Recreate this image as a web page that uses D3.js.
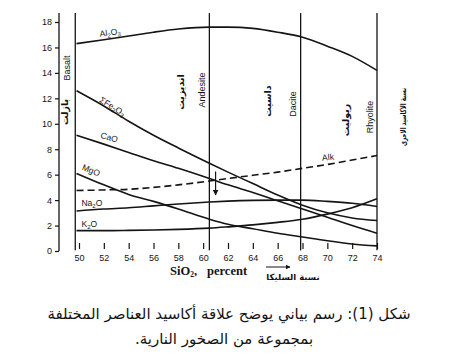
<!DOCTYPE html>
<html><head><meta charset="utf-8">
<script src="https://cdn.jsdelivr.net/npm/d3@7"></script>
<style>
html,body{margin:0;padding:0;background:#fff;}
svg{display:block;}
</style></head>
<body>
<svg id="c" width="456" height="361"></svg>
<script>
// ---- data ----
const silica = [49.8, 52, 54, 56, 58, 60.5, 62, 64, 66, 68, 70, 72, 74];
const al2o3 = [16.3, 16.6, 16.9, 17.2, 17.45, 17.6, 17.6, 17.5, 17.2, 16.8, 16.1, 15.3, 14.2];
const fe2o3 = [12.6, 11.4, 10.2, 9.1, 8.1, 6.9, 6.2, 5.3, 4.4, 3.6, 3.0, 2.6, 2.4];
const cao   = [9.1, 8.4, 7.75, 7.1, 6.5, 5.7, 5.2, 4.6, 3.95, 3.3, 2.65, 2.0, 1.4];
const mgo   = [6.1, 5.2, 4.45, 3.9, 3.3, 2.5, 2.1, 1.75, 1.4, 1.1, 0.8, 0.55, 0.4];
const na2o  = [3.15, 3.3, 3.4, 3.55, 3.7, 3.85, 3.92, 3.98, 4.0, 4.0, 3.9, 3.75, 3.5];
const k2o   = [1.6, 1.6, 1.62, 1.65, 1.7, 1.8, 1.9, 2.05, 2.25, 2.5, 2.9, 3.4, 4.1];
const alk   = [4.75, 4.8, 4.85, 5.0, 5.2, 5.5, 5.7, 5.95, 6.2, 6.5, 6.8, 7.15, 7.5];
const rockNames = ["Basalt", "Andesite", "Dacite", "Rhyolite"];
const rockNamesAr = ["بازلت", "انديزيت", "داسيت", "ريوليت"];
const rockSilica = [49.7, 60.5, 67.85, 74];
const xTicks = [50, 52, 54, 56, 58, 60, 62, 64, 66, 68, 70, 72, 74];
const yTicks = [0, 2, 4, 6, 8, 10, 12, 14, 16, 18];
const arrowSilica = 61;
const arrowFrom = 6.25, arrowTo = 4.4;
const xTitle = "percent";
const xTitleAr = "نسبة السليكا";
const yTitleAr = "نسبة الاكاسيد الاخرى";
const caption1 = "شكل (1): رسم بياني يوضح علاقة أكاسيد العناصر المختلفة";
const caption2 = "بمجموعة من الصخور النارية.";

// ---- scales ----
const svg = d3.select("#c");
const x = d3.scaleLinear().domain([50, 74]).range([79, 377]);
const y = d3.scaleLinear().domain([0, 18]).range([251, 22]);
const ink = "#141414";

// y axis
const yAx = svg.append("g").attr("transform", "translate(59,0)")
  .call(d3.axisLeft(y).tickValues(yTicks).tickSize(4).tickSizeOuter(0).tickPadding(3));
yAx.select(".domain").remove();
yAx.selectAll("line").attr("stroke", ink).attr("stroke-width", 1.2);
yAx.selectAll("text").attr("font-family", "Liberation Sans, Arial, sans-serif")
  .attr("font-size", 9).attr("fill", ink);
svg.append("line").attr("x1", 59).attr("x2", 59).attr("y1", y(18.7)).attr("y2", y(0))
  .attr("stroke", ink).attr("stroke-width", 1.3);

// x axis (ticks only)
const xAx = svg.append("g").attr("transform", "translate(0,249)")
  .call(d3.axisBottom(x).tickValues(xTicks).tickSize(-6).tickSizeOuter(0).tickPadding(6));
xAx.select(".domain").remove();
xAx.selectAll("line").attr("stroke", ink).attr("stroke-width", 1.2);
xAx.selectAll("text").attr("font-family", "Liberation Sans, Arial, sans-serif")
  .attr("font-size", 9).attr("fill", ink);

// rock vertical lines
svg.append("g").selectAll("line").data(rockSilica).join("line")
  .attr("x1", d => x(d)).attr("x2", d => x(d))
  .attr("y1", y(18.7)).attr("y2", y(0.05))
  .attr("stroke", ink).attr("stroke-width", 1.3);

// curves
const line = d3.line().x((d, i) => x(silica[i])).y(d => y(d)).curve(d3.curveMonotoneX);
const series = [al2o3, fe2o3, cao, mgo, na2o, k2o];
svg.append("g").selectAll("path").data(series).join("path")
  .attr("d", line).attr("fill", "none").attr("stroke", ink).attr("stroke-width", 1.6);
svg.append("path").attr("d", line(alk)).attr("fill", "none").attr("stroke", ink)
  .attr("stroke-width", 1.6).attr("stroke-dasharray", "7,4");

// arrow
svg.append("defs").append("marker").attr("id", "ah").attr("viewBox", "0 0 10 10")
  .attr("refX", 9).attr("refY", 5).attr("markerWidth", 5).attr("markerHeight", 6)
  .attr("orient", "auto").append("path").attr("d", "M0,0 L10,5 L0,10 Z").attr("fill", ink);
svg.append("line").attr("x1", x(arrowSilica)).attr("x2", x(arrowSilica))
  .attr("y1", y(arrowFrom)).attr("y2", y(arrowTo)).attr("stroke", ink)
  .attr("stroke-width", 1.2).attr("marker-end", "url(#ah)");

// curve labels
const lab = (t, lx, ly, rot) => {
  const g = svg.append("text").attr("transform", `translate(${lx},${ly}) rotate(${rot})`)
    .attr("font-family", "Liberation Sans, Arial, sans-serif").attr("font-size", 8.5)
    .attr("fill", ink);
  t.forEach(p => g.append("tspan").text(p[0]).attr("font-size", p[1] ? 6 : 8.5)
    .attr("dy", p[1] ? 2 : (p[2] ? -2 : 0)));
  return g;
};
lab([["Al"], ["2", 1], ["O", 0, 1], ["3", 1]], x(51.7), y(16.85), -7);
lab([["ΣFe"], ["2", 1], ["O", 0, 1], ["3", 1]], x(51.6), y(11.75), 32);
lab([["CaO"]], x(51.7), y(8.9), 16);
lab([["MgO"]], x(50.2), y(6.4), 22);
lab([["Na"], ["2", 1], ["O", 0, 1]], x(50.2), y(3.5), 0);
lab([["K"], ["2", 1], ["O", 0, 1]], x(50.2), y(1.9), 0);
lab([["Alk"]], x(69.6), y(7.1), -6);

// rock names (rotated)
const vtext = (t, vx, vy, fam, fs) => svg.append("text")
  .attr("transform", `translate(${vx},${vy}) rotate(-90)`).attr("text-anchor", "middle")
  .attr("font-family", fam).attr("font-size", fs).attr("fill", ink).text(t);
const enY = [68, 90, 104, 117];
const arY = [112, 92, 101, 120];
const enOff = [-5, -4, -5, -4];
const arOff = [-7, -25, -30, -28];
rockSilica.forEach((s, i) => {
  vtext(rockNames[i], x(s) + enOff[i], enY[i], "Liberation Sans, Arial, sans-serif", 9);
  vtext(rockNamesAr[i], x(s) + arOff[i], arY[i], "DejaVu Sans, sans-serif", 9.5)
    .attr("font-weight", "bold");
});
vtext(yTitleAr, 406, 117, "DejaVu Sans, sans-serif", 8.5).attr("font-weight", "bold")
  .attr("textLength", 58).attr("lengthAdjust", "spacingAndGlyphs");

// x title
const xt = svg.append("text").attr("x", 170).attr("y", 275)
  .attr("font-family", "Liberation Serif, Times New Roman, serif").attr("font-weight", "bold")
  .attr("font-size", 12.5).attr("fill", ink);
xt.append("tspan").text("SiO");
xt.append("tspan").text("2").attr("font-size", 7.5).attr("dy", 2);
xt.append("tspan").text(",").attr("dy", -2);
xt.append("tspan").text(xTitle).attr("dx", 10);
svg.append("line").attr("x1", 266).attr("x2", 290).attr("y1", 267).attr("y2", 267)
  .attr("stroke", ink).attr("stroke-width", 1).attr("marker-end", "url(#ah)");
svg.append("text").attr("x", 293).attr("y", 280).attr("text-anchor", "middle")
  .attr("font-family", "DejaVu Sans, sans-serif").attr("font-size", 8.5).attr("font-weight", "bold")
  .attr("fill", ink).text(xTitleAr);

// caption
svg.append("text").attr("x", 229).attr("y", 319).attr("text-anchor", "middle")
  .attr("direction", "rtl")
  .attr("font-family", "DejaVu Sans, sans-serif").attr("font-size", 15).attr("fill", ink)
  .text(caption1);
svg.append("text").attr("x", 224).attr("y", 344).attr("text-anchor", "middle")
  .attr("direction", "rtl")
  .attr("font-family", "DejaVu Sans, sans-serif").attr("font-size", 15).attr("fill", ink)
  .text(caption2);
</script>
</body></html>
